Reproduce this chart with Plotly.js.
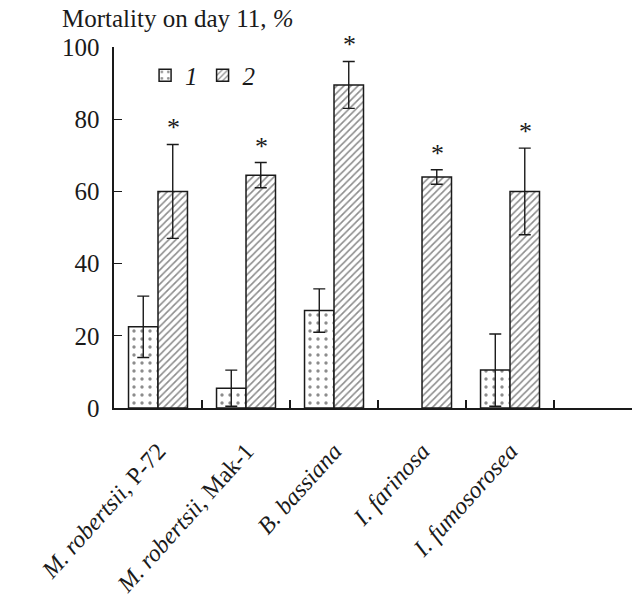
<!DOCTYPE html>
<html>
<head>
<meta charset="utf-8">
<script src="https://cdn.plot.ly/plotly-3.0.1.min.js"></script>
<style>html,body{margin:0;padding:0;background:#fff;}#chart{width:634px;height:605px;}</style>
</head>
<body>
<div id="chart"></div>
<script>
// Data
const categories = ["P72", "Mak1", "Bb", "If", "Ifum"];
const tickLabels = [
  "<i>M. robertsii</i>, P-72",
  "<i>M. robertsii</i>, Mak-1",
  "<i>B. bassiana</i>",
  "<i>I. farinosa</i>",
  "<i>I. fumosorosea</i>"
];
const series1Values = [22.5, 5.5, 27, null, 10.5];
const series1Errors = [8.5, 5, 6, null, 10];
const series2Values = [60, 64.5, 89.5, 64, 60];
const series2Errors = [13, 3.5, 6.5, 2, 12];
const series2Significant = [true, true, true, true, true];
const seriesNames = ["1", "2"];

const FONT = "Liberation Serif, Times New Roman, serif";
const INK = "#1a1a1a";

const trace1 = {
  type: "bar",
  name: seriesNames[0],
  x: categories,
  y: series1Values,
  error_y: {type: "data", array: series1Errors, visible: true, color: INK, thickness: 1.4, width: 6},
  marker: {
    color: "#ffffff",
    line: {color: INK, width: 1.5},
    pattern: {shape: ".", fgcolor: INK, bgcolor: "#ffffff", size: 8, solidity: 0.14, fillmode: "overlay"}
  }
};
const trace2 = {
  type: "bar",
  name: seriesNames[1],
  x: categories,
  y: series2Values,
  error_y: {type: "data", array: series2Errors, visible: true, color: INK, thickness: 1.4, width: 6},
  marker: {
    color: "#ffffff",
    line: {color: INK, width: 1.5},
    pattern: {shape: "/", fgcolor: INK, bgcolor: "#ffffff", size: 5, solidity: 0.32, fillmode: "overlay"}
  }
};

const annotations = categories.map((c, i) => series2Significant[i] ? {
  x: c, y: series2Values[i] + series2Errors[i], xref: "x", yref: "y",
  text: "*", showarrow: false, xanchor: "center", yanchor: "bottom",
  xshift: 15, yshift: 0, font: {family: FONT, size: 26, color: INK}
} : null).filter(Boolean);

const layout = {
  width: 634, height: 605,
  margin: {l: 114, r: 2, t: 47, b: 197},
  paper_bgcolor: "#ffffff", plot_bgcolor: "#ffffff",
  font: {family: FONT, color: INK, size: 25},
  title: {
    text: "Mortality on day 11, <i>%</i>",
    x: 62 / 634, xref: "container", xanchor: "left",
    y: 1 - 18 / 605, yref: "container", yanchor: "middle",
    font: {family: FONT, size: 25, color: INK}
  },
  barmode: "group",
  bargap: 0.33,
  bargroupgap: 0,
  showlegend: true,
  legend: {
    orientation: "h", x: 0.06, y: 0.985, xanchor: "left", yanchor: "top",
    bgcolor: "rgba(0,0,0,0)", font: {family: FONT, size: 25, color: INK, style: "italic"},
    itemwidth: 30, traceorder: "normal"
  },
  xaxis: {
    type: "category",
    range: [-0.5, 5.386],
    tickmode: "array",
    tickvals: categories,
    ticktext: tickLabels,
    tickangle: -48,
    ticks: "inside", ticklen: 8, tickwidth: 1.4, tickcolor: INK,
    tickson: "boundaries",
    showline: true, linecolor: INK, linewidth: 1.6,
    showgrid: false, zeroline: false,
    ticklabelstandoff: 18,
    tickfont: {family: FONT, size: 24, color: INK}
  },
  yaxis: {
    range: [0, 100],
    tickmode: "array",
    tickvals: [0, 20, 40, 60, 80, 100],
    ticks: "inside", ticklen: 8, tickwidth: 1.4, tickcolor: INK,
    showline: true, linecolor: INK, linewidth: 1.6,
    showgrid: false, zeroline: false,
    ticklabelstandoff: 8,
    tickfont: {family: FONT, size: 25, color: INK}
  },
  annotations: annotations
};

Plotly.newPlot("chart", [trace1, trace2], layout, {displayModeBar: false, staticPlot: true});
</script>
</body>
</html>
